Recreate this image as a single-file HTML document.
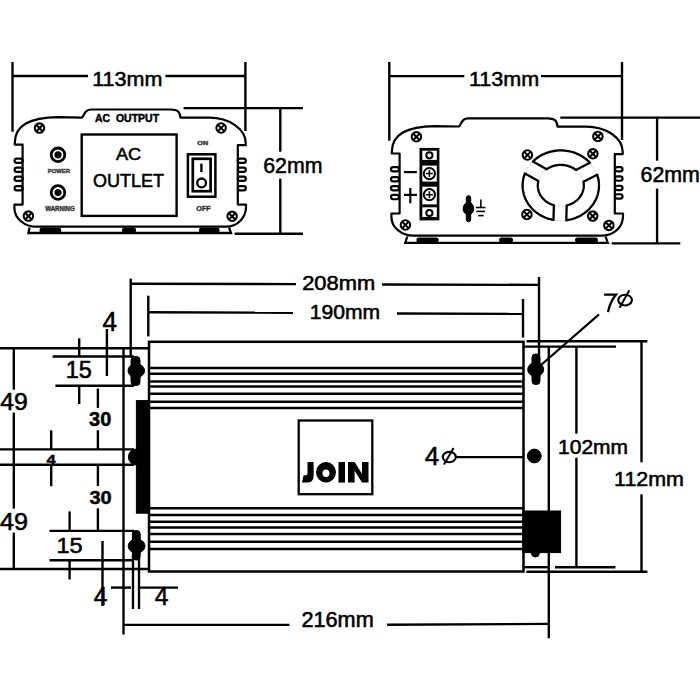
<!DOCTYPE html>
<html><head><meta charset="utf-8"><style>
html,body{margin:0;padding:0;background:#fff;width:700px;height:700px;overflow:hidden}
svg{display:block}
text{font-family:"Liberation Sans",sans-serif;fill:#000}
</style></head><body>
<svg width="700" height="700" viewBox="0 0 700 700" stroke="#000" stroke-linecap="butt">
<rect x="0" y="0" width="700" height="700" fill="#fff" stroke="none"/>
<g stroke="#000">
<line x1="12.5" y1="62" x2="12.5" y2="131.7" stroke-width="2.4" />
<line x1="245.4" y1="62" x2="245.4" y2="131" stroke-width="2.4" />
<line x1="12.5" y1="76" x2="88" y2="76" stroke-width="2.4" />
<line x1="165.4" y1="76" x2="245.4" y2="76" stroke-width="2.4" />
<text transform="matrix(1.0212 0 0 1 92.23 85.70)" font-size="21.09" font-weight="normal"  stroke="#000" stroke-width="0.55" fill="#000">113mm</text>
<path d="M14.8,143 C14.8,125 30,117.8 58,117.2 L81.5,117.6 C84.5,117.6 83,109.5 91,109.5 L170.7,109.5 C178,109.5 180,112 180.5,117.7 L209,117.7 A36.7 25.3 0 0 1 245.7,143 L245.7,145.2 L237.8,145.2 L237.8,204.6 L246,204.6 L246,207 A20 19.7 0 0 1 226,226.7 L36.6,226.7 A22.2 18.7 0 0 1 14.4,208 L14.4,204.6 L22.6,204.6 L22.6,144.6 L14.8,144.6 Z" fill="none" stroke-width="2.2" stroke-linejoin="round"/>
<rect x="14.6" y="158.54999999999998" width="8.000000000000002" height="4.3" rx="2.15" fill="none" stroke-width="2.2"/>
<rect x="14.6" y="167.65" width="8.000000000000002" height="4.3" rx="2.15" fill="none" stroke-width="2.2"/>
<rect x="14.6" y="176.65" width="8.000000000000002" height="4.3" rx="2.15" fill="none" stroke-width="2.2"/>
<rect x="14.6" y="186.04999999999998" width="8.000000000000002" height="4.3" rx="2.15" fill="none" stroke-width="2.2"/>
<rect x="237.8" y="158.54999999999998" width="8.0" height="4.3" rx="2.15" fill="none" stroke-width="2.2"/>
<rect x="237.8" y="167.65" width="8.0" height="4.3" rx="2.15" fill="none" stroke-width="2.2"/>
<rect x="237.8" y="176.65" width="8.0" height="4.3" rx="2.15" fill="none" stroke-width="2.2"/>
<rect x="237.8" y="186.04999999999998" width="8.0" height="4.3" rx="2.15" fill="none" stroke-width="2.2"/>
<circle cx="39.5" cy="128.1" r="4.7" fill="none" stroke-width="2.1"/>
<path d="M36.12,124.72L42.88,131.48M42.88,124.72L36.12,131.48" stroke-width="2.1"/>
<circle cx="221.1" cy="128" r="4.7" fill="none" stroke-width="2.1"/>
<path d="M217.72,124.62L224.48,131.38M224.48,124.62L217.72,131.38" stroke-width="2.1"/>
<circle cx="28.4" cy="216.1" r="4.7" fill="none" stroke-width="2.1"/>
<path d="M25.02,212.72L31.78,219.48M31.78,212.72L25.02,219.48" stroke-width="2.1"/>
<circle cx="232.1" cy="216.3" r="4.7" fill="none" stroke-width="2.1"/>
<path d="M228.72,212.92L235.48,219.68M235.48,212.92L228.72,219.68" stroke-width="2.1"/>
<circle cx="58" cy="154.8" r="6.8" fill="none" stroke-width="2.8"/>
<circle cx="58" cy="154.8" r="3.6" fill="#000" stroke="none"/>
<circle cx="58" cy="192.5" r="6.8" fill="none" stroke-width="2.8"/>
<circle cx="58" cy="192.5" r="3.6" fill="#000" stroke="none"/>
<text transform="matrix(1.0052 0 0 1 47.73 172.90)" font-size="5.84" font-weight="bold"  stroke="#555" stroke-width="0.45" fill="#555">POWER</text>
<text transform="matrix(0.8955 0 0 1 45.22 210.70)" font-size="6.84" font-weight="bold"  stroke="#555" stroke-width="0.45" fill="#555">WARNING</text>
<rect x="81.7" y="134.5" width="94.9" height="81.4" fill="none" stroke-width="2.4"/>
<text transform="matrix(1.0701 0 0 1 115.94 160.00)" font-size="16.94" font-weight="normal"  stroke="#000" stroke-width="0.55" fill="#000">AC</text>
<text transform="matrix(0.9815 0 0 1 93.02 187.40)" font-size="18.37" font-weight="normal"  stroke="#000" stroke-width="0.55" fill="#000">OUTLET</text>
<text transform="matrix(1.0228 0 0 1 94.96 122.10)" font-size="10.28" font-weight="bold" style="white-space:pre" stroke="#000" stroke-width="0.45" fill="#000">AC  OUTPUT</text>
<rect x="187.9" y="154.3" width="27.5" height="42.4" fill="none" stroke-width="2.5"/>
<rect x="192.8" y="158.8" width="17.8" height="32.4" fill="none" stroke-width="2.7"/>
<line x1="201.4" y1="163.6" x2="201.4" y2="172.1" stroke-width="2.4" />
<circle cx="201.6" cy="182.9" r="4.4" fill="none" stroke-width="2.3"/>
<text transform="matrix(1.2375 0 0 1 197.33 144.60)" font-size="5.84" font-weight="bold"  stroke="#555" stroke-width="0.45" fill="#555">ON</text>
<text transform="matrix(0.9191 0 0 1 196.33 210.70)" font-size="7.84" font-weight="bold"  stroke="#555" stroke-width="0.45" fill="#555">OFF</text>
<path d="M29.6,227.5 L28.4,233 L231,233 L229,227.5" fill="none" stroke-width="2.3"/>
<rect x="39.6" y="227.4" width="21.6" height="5.8" rx="2.5" fill="#000" stroke="none"/>
<rect x="122" y="227.4" width="14.0" height="5.8" rx="2.5" fill="#000" stroke="none"/>
<rect x="199" y="227.4" width="20.5" height="5.8" rx="2.5" fill="#000" stroke="none"/>
<line x1="183.6" y1="108.1" x2="302.9" y2="108.1" stroke-width="2.4" />
<line x1="234.6" y1="233.8" x2="303" y2="233.8" stroke-width="2.4" />
<line x1="280.3" y1="108.1" x2="280.3" y2="151.7" stroke-width="2.4" />
<line x1="280.3" y1="178.6" x2="280.3" y2="233.8" stroke-width="2.4" />
<text transform="matrix(0.9796 0 0 1 263.19 172.60)" font-size="21.80" font-weight="normal"  stroke="#000" stroke-width="0.55" fill="#000">62mm</text>
<line x1="389.3" y1="62" x2="389.3" y2="140.7" stroke-width="2.4" />
<line x1="622" y1="62" x2="622" y2="140" stroke-width="2.4" />
<line x1="389.3" y1="76.1" x2="464.3" y2="76.1" stroke-width="2.4" />
<line x1="541" y1="76.1" x2="622" y2="76.1" stroke-width="2.4" />
<text transform="matrix(1.0439 0 0 1 468.93 86.40)" font-size="20.66" font-weight="normal"  stroke="#000" stroke-width="0.55" fill="#000">113mm</text>
<g transform="translate(377,8.9)"><path d="M14.8,143 C14.8,125 30,117.8 58,117.2 L81.5,117.6 C84.5,117.6 83,109.5 91,109.5 L170.7,109.5 C178,109.5 180,112 180.5,117.7 L209,117.7 A36.7 25.3 0 0 1 245.7,143 L245.7,145.2 L237.8,145.2 L237.8,204.6 L246,204.6 L246,207 A20 19.7 0 0 1 226,226.7 L36.6,226.7 A22.2 18.7 0 0 1 14.4,208 L14.4,204.6 L22.6,204.6 L22.6,144.6 L14.8,144.6 Z" fill="none" stroke-width="2.2" stroke-linejoin="round"/></g>
<rect x="391" y="167.15" width="8" height="4.3" rx="2.15" fill="none" stroke-width="2.2"/>
<rect x="391" y="177.15" width="8" height="4.3" rx="2.15" fill="none" stroke-width="2.2"/>
<rect x="391" y="186.15" width="8" height="4.3" rx="2.15" fill="none" stroke-width="2.2"/>
<rect x="391" y="194.95" width="8" height="4.3" rx="2.15" fill="none" stroke-width="2.2"/>
<rect x="615" y="167.15" width="7.5" height="4.3" rx="2.15" fill="none" stroke-width="2.2"/>
<rect x="615" y="176.45" width="7.5" height="4.3" rx="2.15" fill="none" stroke-width="2.2"/>
<rect x="615" y="185.75" width="7.5" height="4.3" rx="2.15" fill="none" stroke-width="2.2"/>
<rect x="615" y="194.25" width="7.5" height="4.3" rx="2.15" fill="none" stroke-width="2.2"/>
<circle cx="416.4" cy="136.8" r="4.7" fill="none" stroke-width="2.1"/>
<path d="M413.02,133.42L419.78,140.18M419.78,133.42L413.02,140.18" stroke-width="2.1"/>
<circle cx="597.9" cy="136.4" r="4.7" fill="none" stroke-width="2.1"/>
<path d="M594.52,133.02L601.28,139.78M601.28,133.02L594.52,139.78" stroke-width="2.1"/>
<circle cx="405.4" cy="225" r="4.7" fill="none" stroke-width="2.1"/>
<path d="M402.02,221.62L408.78,228.38M408.78,221.62L402.02,228.38" stroke-width="2.1"/>
<circle cx="608.9" cy="225.4" r="4.7" fill="none" stroke-width="2.1"/>
<path d="M605.52,222.02L612.28,228.78M612.28,222.02L605.52,228.78" stroke-width="2.1"/>
<rect x="420" y="148.4" width="18.9" height="71.5" fill="#000"/>
<rect x="422.3" y="150.7" width="14.5" height="9.2" fill="#fff" stroke="none"/>
<rect x="422.3" y="165.6" width="14.5" height="16.0" fill="#fff" stroke="none"/>
<rect x="422.3" y="186.7" width="14.5" height="17.7" fill="#fff" stroke="none"/>
<rect x="422.3" y="207.3" width="14.5" height="9.7" fill="#fff" stroke="none"/>
<circle cx="429.4" cy="155.3" r="3.1" fill="none" stroke-width="2.0"/>
<circle cx="429.4" cy="213" r="3.1" fill="none" stroke-width="2.0"/>
<circle cx="429.4" cy="173.6" r="5.6" fill="none" stroke-width="2.0"/>
<path d="M425.9,173.6H432.9M429.4,170.1V177.1" stroke-width="1.5"/>
<circle cx="429.4" cy="194.7" r="5.6" fill="none" stroke-width="2.0"/>
<path d="M425.9,194.7H432.9M429.4,191.2V198.2" stroke-width="1.5"/>
<line x1="404" y1="172.1" x2="416.9" y2="172.1" stroke-width="2.2" />
<line x1="404" y1="194.9" x2="416.9" y2="194.9" stroke-width="2.2" />
<line x1="410.3" y1="187.9" x2="410.3" y2="203.3" stroke-width="2.2" />
<ellipse cx="468.4" cy="208.6" rx="5.3" ry="6.3" fill="#000"/>
<rect x="466.3" y="195.7" width="4.4" height="26.1" rx="2.2" fill="#000"/>
<line x1="480.9" y1="199.6" x2="480.9" y2="207.5" stroke-width="1.6" />
<line x1="475.7" y1="207.5" x2="485.4" y2="207.5" stroke-width="1.6" />
<line x1="476.3" y1="211.4" x2="485" y2="211.4" stroke-width="1.6" />
<line x1="478.2" y1="215.6" x2="483.6" y2="215.6" stroke-width="1.6" />
<ellipse cx="560.8" cy="185.5" rx="38.2" ry="35.1" fill="none" stroke="#d4d4d4" stroke-width="1.2" stroke-dasharray="2 1.5"/>
<ellipse cx="560.8" cy="185.5" rx="23.0" ry="20.6" fill="none" stroke="#d4d4d4" stroke-width="1.2" stroke-dasharray="2 1.5"/>
<path d="M553.50,219.95 L551.88,219.63 L550.29,219.24 L548.71,218.80 L547.16,218.28 L545.63,217.71 L544.13,217.08 L542.66,216.39 L541.22,215.64 L539.83,214.84 L538.47,213.98 L537.15,213.06 L535.87,212.10 L534.65,211.08 L533.47,210.02 L532.34,208.92 L531.27,207.76 L530.25,206.57 L529.29,205.34 L528.38,204.07 L527.54,202.77 L526.76,201.43 L526.04,200.06 L525.39,198.67 L524.81,197.25 L524.29,195.81 L523.84,194.36 L523.45,192.88 L523.14,191.39 L522.90,189.89 L522.73,188.38 L522.63,186.87 L522.60,185.35 L522.64,183.84 L522.76,182.32 L522.94,180.82 L523.20,179.32 L523.52,177.83 L523.92,176.36 L524.38,174.90 L524.91,173.47 L538.34,181.06 L538.17,181.81 L538.03,182.57 L537.93,183.32 L537.85,184.08 L537.81,184.85 L537.80,185.61 L537.82,186.37 L537.87,187.14 L537.96,187.90 L538.07,188.65 L538.22,189.40 L538.39,190.15 L538.60,190.89 L538.84,191.62 L539.11,192.35 L539.41,193.06 L539.73,193.77 L540.09,194.46 L540.48,195.14 L540.89,195.81 L541.33,196.46 L541.80,197.10 L542.29,197.73 L542.81,198.33 L543.35,198.92 L543.92,199.49 L544.51,200.04 L545.12,200.57 L545.75,201.08 L546.41,201.57 L547.08,202.04 L547.78,202.48 L548.49,202.90 L549.22,203.30 L549.96,203.67 L550.72,204.02 L551.49,204.34 L552.28,204.63 L553.08,204.90 L553.88,205.15 Z" fill="none" stroke-width="2.3" stroke-linejoin="round"/>
<path d="M532.95,161.47 L534.08,160.42 L535.25,159.41 L536.47,158.44 L537.73,157.52 L539.03,156.66 L540.37,155.84 L541.75,155.08 L543.16,154.37 L544.60,153.71 L546.07,153.11 L547.57,152.57 L549.09,152.09 L550.63,151.67 L552.19,151.30 L553.77,151.00 L555.35,150.76 L556.95,150.58 L558.55,150.46 L560.16,150.40 L561.77,150.41 L563.37,150.48 L564.98,150.61 L566.57,150.80 L568.16,151.06 L569.73,151.37 L571.28,151.75 L572.82,152.18 L574.33,152.68 L575.83,153.23 L577.29,153.84 L578.73,154.51 L580.13,155.23 L581.50,156.00 L582.83,156.83 L584.13,157.71 L585.38,158.63 L586.59,159.61 L587.75,160.63 L588.87,161.69 L589.93,162.80 L575.89,169.95 L575.28,169.50 L574.66,169.06 L574.02,168.64 L573.37,168.25 L572.70,167.87 L572.01,167.51 L571.31,167.18 L570.60,166.87 L569.88,166.57 L569.15,166.31 L568.41,166.06 L567.66,165.84 L566.90,165.64 L566.13,165.46 L565.36,165.31 L564.58,165.18 L563.80,165.08 L563.01,165.00 L562.22,164.94 L561.43,164.91 L560.64,164.90 L559.85,164.92 L559.06,164.96 L558.27,165.03 L557.48,165.12 L556.70,165.23 L555.92,165.37 L555.15,165.53 L554.39,165.72 L553.63,165.93 L552.89,166.16 L552.15,166.41 L551.42,166.69 L550.70,166.99 L550.00,167.31 L549.31,167.66 L548.63,168.02 L547.96,168.41 L547.31,168.81 L546.68,169.24 Z" fill="none" stroke-width="2.3" stroke-linejoin="round"/>
<path d="M597.19,174.82 L597.66,176.28 L598.06,177.75 L598.39,179.25 L598.65,180.75 L598.84,182.26 L598.95,183.78 L599.00,185.31 L598.97,186.83 L598.87,188.35 L598.70,189.86 L598.46,191.37 L598.15,192.87 L597.77,194.35 L597.31,195.81 L596.79,197.26 L596.20,198.68 L595.55,200.08 L594.83,201.45 L594.04,202.79 L593.19,204.10 L592.28,205.38 L591.32,206.61 L590.29,207.81 L589.21,208.96 L588.08,210.07 L586.89,211.14 L585.65,212.15 L584.37,213.12 L583.05,214.03 L581.68,214.89 L580.27,215.70 L578.83,216.45 L577.35,217.14 L575.84,217.77 L574.30,218.33 L572.74,218.84 L571.15,219.29 L569.55,219.67 L567.93,219.98 L566.29,220.24 L566.68,205.42 L567.51,205.21 L568.32,204.97 L569.13,204.70 L569.92,204.41 L570.70,204.09 L571.47,203.75 L572.22,203.38 L572.96,202.99 L573.68,202.57 L574.38,202.13 L575.06,201.66 L575.72,201.18 L576.36,200.67 L576.99,200.14 L577.58,199.59 L578.16,199.02 L578.71,198.43 L579.23,197.82 L579.73,197.20 L580.21,196.55 L580.65,195.90 L581.07,195.23 L581.46,194.55 L581.83,193.85 L582.16,193.14 L582.46,192.42 L582.74,191.69 L582.98,190.96 L583.19,190.21 L583.37,189.46 L583.52,188.71 L583.64,187.94 L583.72,187.18 L583.78,186.41 L583.80,185.65 L583.79,184.88 L583.75,184.11 L583.67,183.35 L583.57,182.58 L583.43,181.83 Z" fill="none" stroke-width="2.3" stroke-linejoin="round"/>
<circle cx="527.4" cy="155" r="4.7" fill="none" stroke-width="2.1"/>
<path d="M524.02,151.62L530.78,158.38M530.78,151.62L524.02,158.38" stroke-width="2.1"/>
<circle cx="592.9" cy="153.8" r="4.7" fill="none" stroke-width="2.1"/>
<path d="M589.52,150.42L596.28,157.18M596.28,150.42L589.52,157.18" stroke-width="2.1"/>
<circle cx="526.9" cy="214.5" r="4.7" fill="none" stroke-width="2.1"/>
<path d="M523.52,211.12L530.28,217.88M530.28,211.12L523.52,217.88" stroke-width="2.1"/>
<circle cx="592.7" cy="216.1" r="4.7" fill="none" stroke-width="2.1"/>
<path d="M589.32,212.72L596.08,219.48M596.08,212.72L589.32,219.48" stroke-width="2.1"/>
<path d="M407.3,236.5 L405.2,242.9 L607.8,242.9 L605.6,236.5" fill="none" stroke-width="2.2"/>
<rect x="416.4" y="237.6" width="22.2" height="5" rx="2.5" fill="#000" stroke="none"/>
<rect x="499" y="237.6" width="14.0" height="5" rx="2.5" fill="#000" stroke="none"/>
<rect x="575" y="237.6" width="23.0" height="5" rx="2.5" fill="#000" stroke="none"/>
<line x1="560.3" y1="117.6" x2="700" y2="117.6" stroke-width="2.4" />
<line x1="611.7" y1="243.4" x2="680.3" y2="243.4" stroke-width="2.4" />
<line x1="657.1" y1="117.6" x2="657.1" y2="160.7" stroke-width="2.4" />
<line x1="657.1" y1="188.6" x2="657.1" y2="243.4" stroke-width="2.4" />
<text transform="matrix(1.0060 0 0 1 640.59 182.10)" font-size="21.23" font-weight="normal"  stroke="#000" stroke-width="0.55" fill="#000">62mm</text>
<rect x="149" y="341.8" width="374.5" height="229.7" fill="none" stroke-width="2.5"/>
<line x1="149" y1="367.9" x2="523.5" y2="367.9" stroke-width="2.5" />
<line x1="149" y1="373.7" x2="523.5" y2="373.7" stroke-width="2.5" />
<line x1="149" y1="381.4" x2="523.5" y2="381.4" stroke-width="2.5" />
<line x1="149" y1="386.5" x2="523.5" y2="386.5" stroke-width="2.5" />
<line x1="149" y1="393.8" x2="523.5" y2="393.8" stroke-width="2.5" />
<line x1="149" y1="401.7" x2="523.5" y2="401.7" stroke-width="2.5" />
<line x1="149" y1="408" x2="523.5" y2="408" stroke-width="2.5" />
<line x1="149" y1="508.2" x2="523.5" y2="508.2" stroke-width="2.5" />
<line x1="149" y1="514.9" x2="523.5" y2="514.9" stroke-width="2.5" />
<line x1="149" y1="521.7" x2="523.5" y2="521.7" stroke-width="2.5" />
<line x1="149" y1="527.4" x2="523.5" y2="527.4" stroke-width="2.5" />
<line x1="149" y1="534.1" x2="523.5" y2="534.1" stroke-width="2.5" />
<line x1="149" y1="541.7" x2="523.5" y2="541.7" stroke-width="2.5" />
<line x1="149" y1="548.9" x2="523.5" y2="548.9" stroke-width="2.5" />
<rect x="136.4" y="400.6" width="13.1" height="112.6" fill="#000"/>
<rect x="298.7" y="420.5" width="73.6" height="73.7" fill="none" stroke-width="2.3"/>
<path d="M307.5,462 L313.6,462 L313.6,476 Q313.6,482.6 307,482.6 L302,482.6 L303.6,475.3 L306,475.3 Q307.5,475.3 307.5,473.5 Z" fill="#000" stroke="none"/>
<path d="M316,472.3 A10 10.2 0 1 0 336,472.3 A10 10.2 0 1 0 316,472.3 Z M322.5,473.2 A3.5 3.8 0 1 0 329.5,473.2 A3.5 3.8 0 1 0 322.5,473.2 Z" fill="#000" fill-rule="evenodd" stroke="none"/>
<rect x="338.5" y="462" width="6.5" height="20.6" fill="#000" stroke="none"/>
<path d="M348,462 H354.6 L362,473.8 V462 H368.5 V482.6 H362 L354.6,470.8 V482.6 H348 Z" fill="#000" stroke="none"/>
<line x1="130.7" y1="278.6" x2="130.7" y2="357" stroke-width="2.4" />
<line x1="130.7" y1="283.8" x2="296" y2="284.1" stroke-width="2.4" />
<line x1="382" y1="284.5" x2="539" y2="284.9" stroke-width="2.4" />
<line x1="539" y1="277" x2="539" y2="360" stroke-width="2.4" />
<text transform="matrix(1.1137 0 0 1 302.17 290.00)" font-size="19.66" font-weight="normal"  stroke="#000" stroke-width="0.55" fill="#000">208mm</text>
<line x1="148.3" y1="295.7" x2="148.3" y2="336.4" stroke-width="2.4" />
<line x1="148.3" y1="312.3" x2="293" y2="312.8" stroke-width="2.4" />
<line x1="397" y1="313.5" x2="523" y2="313.9" stroke-width="2.4" />
<line x1="523" y1="299" x2="523" y2="337.5" stroke-width="2.4" />
<text transform="matrix(1.0444 0 0 1 309.67 319.40)" font-size="20.23" font-weight="normal"  stroke="#000" stroke-width="0.55" fill="#000">190mm</text>
<line x1="523.5" y1="346.6" x2="616" y2="346.6" stroke-width="2.4" />
<line x1="548.8" y1="346.6" x2="548.8" y2="638.3" stroke-width="2.4" />
<line x1="523.5" y1="567.2" x2="548.8" y2="567.2" stroke-width="2.4" />
<line x1="555" y1="567.2" x2="615.4" y2="567.2" stroke-width="2.4" />
<line x1="526.5" y1="341.2" x2="647.4" y2="341.2" stroke-width="2.4" />
<line x1="526.3" y1="571.8" x2="647.4" y2="571.8" stroke-width="2.4" />
<line x1="576.4" y1="346.6" x2="576.4" y2="433.7" stroke-width="2.4" />
<line x1="576.4" y1="457.7" x2="576.4" y2="567.2" stroke-width="2.4" />
<line x1="641.5" y1="341.2" x2="641.5" y2="462.3" stroke-width="2.4" />
<line x1="641.5" y1="494.3" x2="641.5" y2="571.8" stroke-width="2.4" />
<text transform="matrix(1.0516 0 0 1 558.08 454.30)" font-size="19.94" font-weight="normal"  stroke="#000" stroke-width="0.55" fill="#000">102mm</text>
<text transform="matrix(1.0767 0 0 1 614.04 486.30)" font-size="19.94" font-weight="normal"  stroke="#000" stroke-width="0.55" fill="#000">112mm</text>
<rect x="532" y="354" width="8" height="30.5" rx="3.5" fill="#000"/>
<ellipse cx="535.7" cy="369.5" rx="8" ry="7" fill="#000"/>
<circle cx="534.3" cy="456" r="6.9" fill="#000"/>
<rect x="522.9" y="511" width="37.7" height="41.6" fill="#000"/>
<circle cx="535.4" cy="553" r="4" fill="#000"/>
<line x1="541" y1="365" x2="599" y2="314.3" stroke-width="2.3" />
<line x1="456" y1="457.1" x2="523.6" y2="457.1" stroke-width="2.3" />
<path d="M604.1,294.6 L616.1,294.6 Q610,302 608,312.1" fill="none" stroke-width="2.3"/>
<ellipse cx="625.1" cy="300.1" rx="6.8" ry="5.4" fill="none" stroke-width="2.1"/>
<line x1="619.6" y1="307.8" x2="629.4" y2="290.3" stroke-width="2.0" />
<text transform="matrix(1.0016 0 0 1 424.68 465.00)" font-size="26.05" font-weight="normal"  stroke="#000" stroke-width="0.55" fill="#000">4</text>
<ellipse cx="449.3" cy="457.1" rx="6.5" ry="5.2" fill="none" stroke-width="2.1"/>
<line x1="443.9" y1="464.6" x2="453.6" y2="447.9" stroke-width="2.0" />
<line x1="0" y1="348.2" x2="149" y2="348.2" stroke-width="2.4" />
<line x1="123.5" y1="348.2" x2="123.5" y2="634.5" stroke-width="2.4" />
<line x1="13.8" y1="348.2" x2="13.8" y2="389.7" stroke-width="2.4" />
<line x1="13.8" y1="412.6" x2="13.8" y2="508.6" stroke-width="2.4" />
<line x1="13.8" y1="532.6" x2="13.8" y2="569" stroke-width="2.4" />
<text transform="matrix(1.0357 0 0 1 0.21 410.00)" font-size="23.95" font-weight="normal"  stroke="#000" stroke-width="0.55" fill="#000">49</text>
<text transform="matrix(1.0455 0 0 1 -0.00 530.00)" font-size="24.10" font-weight="normal"  stroke="#000" stroke-width="0.55" fill="#000">49</text>
<line x1="0" y1="449.4" x2="134" y2="449.4" stroke-width="2.4" />
<line x1="0" y1="464.8" x2="134" y2="464.8" stroke-width="2.4" />
<circle cx="136.4" cy="457" r="8" fill="#000"/>
<text transform="matrix(1.2389 0 0 1 46.47 463.70)" font-size="13.34" font-weight="bold"  stroke="#000" stroke-width="0.45" fill="#000">4</text>
<line x1="0" y1="569" x2="149" y2="569" stroke-width="2.4" />
<line x1="52.6" y1="356.5" x2="134" y2="356.5" stroke-width="2.4" />
<line x1="55.4" y1="385.8" x2="134" y2="385.8" stroke-width="2.4" />
<line x1="79.2" y1="338.3" x2="79.2" y2="357" stroke-width="2.4" />
<line x1="79.2" y1="386" x2="79.2" y2="404" stroke-width="2.4" />
<text transform="matrix(1.0211 0 0 1 65.69 377.60)" font-size="23.00" font-weight="normal"  stroke="#000" stroke-width="0.55" fill="#000">15</text>
<rect x="131" y="356.5" width="9" height="29" rx="3.5" fill="#000"/>
<ellipse cx="136.3" cy="370.7" rx="8.3" ry="6.9" fill="#000"/>
<line x1="106.9" y1="329" x2="106.9" y2="376" stroke-width="2.4" />
<text transform="matrix(0.9487 0 0 1 102.58 330.60)" font-size="27.51" font-weight="normal"  stroke="#000" stroke-width="0.55" fill="#000">4</text>
<line x1="97.9" y1="388.6" x2="97.9" y2="407.9" stroke-width="2.4" />
<line x1="97.9" y1="430.3" x2="97.9" y2="449.4" stroke-width="2.4" />
<text transform="matrix(1.0279 0 0 1 89.07 426.40)" font-size="19.44" font-weight="bold"  stroke="#000" stroke-width="0.45" fill="#000">30</text>
<line x1="51.2" y1="430.3" x2="51.2" y2="449.4" stroke-width="2.4" />
<line x1="51.2" y1="464.8" x2="51.2" y2="486.2" stroke-width="2.4" />
<line x1="97.9" y1="464.8" x2="97.9" y2="486" stroke-width="2.4" />
<line x1="97.9" y1="508.3" x2="97.9" y2="530.9" stroke-width="2.4" />
<text transform="matrix(1.0591 0 0 1 89.47 504.00)" font-size="18.87" font-weight="bold"  stroke="#000" stroke-width="0.45" fill="#000">30</text>
<line x1="49.5" y1="530.9" x2="134" y2="530.9" stroke-width="2.4" />
<line x1="49.5" y1="560.2" x2="134" y2="560.2" stroke-width="2.4" />
<line x1="69.6" y1="511.4" x2="69.6" y2="530.9" stroke-width="2.4" />
<line x1="69.6" y1="560.2" x2="69.6" y2="579.5" stroke-width="2.4" />
<text transform="matrix(1.0659 0 0 1 56.48 552.90)" font-size="22.13" font-weight="normal"  stroke="#000" stroke-width="0.55" fill="#000">15</text>
<line x1="102.5" y1="541" x2="102.5" y2="606" stroke-width="2.4" />
<rect x="132.4" y="530.5" width="7.8" height="29.5" rx="3.5" fill="#000"/>
<ellipse cx="136.6" cy="546" rx="8.4" ry="7" fill="#000"/>
<line x1="133" y1="556" x2="133" y2="609" stroke-width="2.4" />
<line x1="139" y1="556" x2="139" y2="609" stroke-width="2.4" />
<line x1="111" y1="587.6" x2="131" y2="587.6" stroke-width="2.4" />
<line x1="140" y1="587.6" x2="178" y2="587.6" stroke-width="2.4" />
<text transform="matrix(0.9590 0 0 1 93.71 605.00)" font-size="25.76" font-weight="normal"  stroke="#000" stroke-width="0.55" fill="#000">4</text>
<text transform="matrix(0.9590 0 0 1 154.71 605.00)" font-size="25.76" font-weight="normal"  stroke="#000" stroke-width="0.55" fill="#000">4</text>
<line x1="123.5" y1="624.9" x2="289.4" y2="624.9" stroke-width="2.4" />
<line x1="387.1" y1="624.8" x2="548.8" y2="623.9" stroke-width="2.4" />
<text transform="matrix(1.0208 0 0 1 301.48 627.10)" font-size="21.23" font-weight="normal"  stroke="#000" stroke-width="0.55" fill="#000">216mm</text>
</g>
</svg>
</body></html>
